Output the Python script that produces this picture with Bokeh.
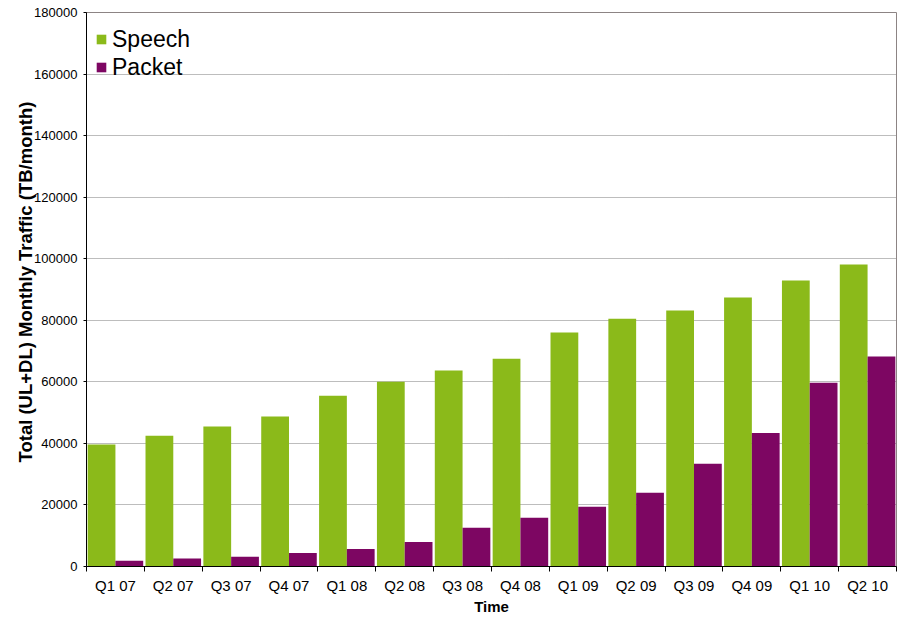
from bokeh.plotting import figure
from bokeh.models import (ColumnDataSource, FixedTicker, Range1d, Legend, LegendItem,
                          BasicTickFormatter, Title)
from bokeh.transform import dodge
from bokeh.embed import file_html
from bokeh.resources import INLINE

quarters = ["Q1 07", "Q2 07", "Q3 07", "Q4 07", "Q1 08", "Q2 08", "Q3 08",
            "Q4 08", "Q1 09", "Q2 09", "Q3 09", "Q4 09", "Q1 10", "Q2 10"]
speech = [39600, 42500, 45500, 48700, 55500, 60000, 63700,
          67500, 76000, 80500, 83200, 87400, 92900, 98100]
packet = [1900, 2600, 3200, 4400, 5700, 8000, 12600,
          15800, 19400, 24000, 33400, 43400, 59700, 68200]
y_ticks = list(range(0, 180001, 20000))
y_title = "Total (UL+DL) Monthly Traffic (TB/month)"
x_title = "Time"

GREEN = "#8BBA1A"
PURPLE = "#7D0662"
FONT = "Liberation Sans"

centers = [i + 0.5 for i in range(len(quarters))]
bounds = [float(i) for i in range(len(quarters) + 1)]

src = ColumnDataSource(dict(x=centers, q=quarters, speech=speech, packet=packet))

p = figure(width=904, height=617, output_backend="svg", toolbar_location=None,
           x_range=Range1d(0, len(quarters)), y_range=Range1d(0, 180000),
           min_border_left=86, min_border_right=8, min_border_top=12,
           min_border_bottom=51)

r1 = p.vbar(x=dodge("x", -0.24), top="speech", width=0.48, source=src,
            fill_color=GREEN, line_color=None)
r2 = p.vbar(x=dodge("x", 0.24), top="packet", width=0.48, source=src,
            fill_color=PURPLE, line_color=None)

p.background_fill_color = "white"
p.border_fill_color = "white"
p.outline_line_color = "#8c8484"
p.outline_line_width = 1

# x axis
xa = p.xaxis[0]
xa.ticker = FixedTicker(ticks=centers, minor_ticks=bounds)
xa.major_label_overrides = {c: q for c, q in zip(centers, quarters)}
xa.major_tick_line_color = None
xa.major_tick_out = 0
xa.major_tick_in = 0
xa.minor_tick_line_color = "black"
xa.minor_tick_out = 5
xa.minor_tick_in = 0
xa.axis_line_color = "black"
xa.major_label_text_font = FONT
xa.major_label_text_font_size = "15px"
xa.major_label_text_color = "black"
xa.major_label_standoff = 5
xa.axis_label = x_title
xa.axis_label_text_font = FONT
xa.axis_label_text_font_size = "15px"
xa.axis_label_text_font_style = "bold"
xa.axis_label_text_color = "black"
xa.axis_label_standoff = 1

# y axis
ya = p.yaxis[0]
ya.ticker = FixedTicker(ticks=y_ticks)
ya.formatter = BasicTickFormatter(use_scientific=False)
ya.minor_tick_line_color = None
ya.major_tick_out = 3
ya.major_tick_in = 0
ya.major_tick_line_color = "black"
ya.axis_line_color = "black"
ya.major_label_text_font = FONT
ya.major_label_text_font_size = "13px"
ya.major_label_text_color = "black"
ya.major_label_standoff = 6

# y axis title as a side title, placed like the reference
p.add_layout(Title(text=y_title, align="left", offset=104, standoff=-8,
                   text_font=FONT, text_font_size="18.5px",
                   text_font_style="bold", text_color="black"), "left")

p.xgrid.grid_line_color = None
p.ygrid.ticker = FixedTicker(ticks=y_ticks)
p.ygrid.grid_line_color = "#7a7a7a"
p.ygrid.grid_line_dash = "1 1"
p.ygrid.grid_line_width = 1

legend = Legend(items=[LegendItem(label="Speech", renderers=[r1]),
                       LegendItem(label="Packet", renderers=[r2])],
                location=(9, 485), margin=0, padding=0,
                glyph_width=12, glyph_height=12, label_height=28, spacing=0,
                label_standoff=5, label_text_font=FONT,
                label_text_font_size="23px", label_text_color="black",
                background_fill_alpha=0, border_line_color=None)
p.add_layout(legend)

open("out.html", "w").write(file_html(p, INLINE))
